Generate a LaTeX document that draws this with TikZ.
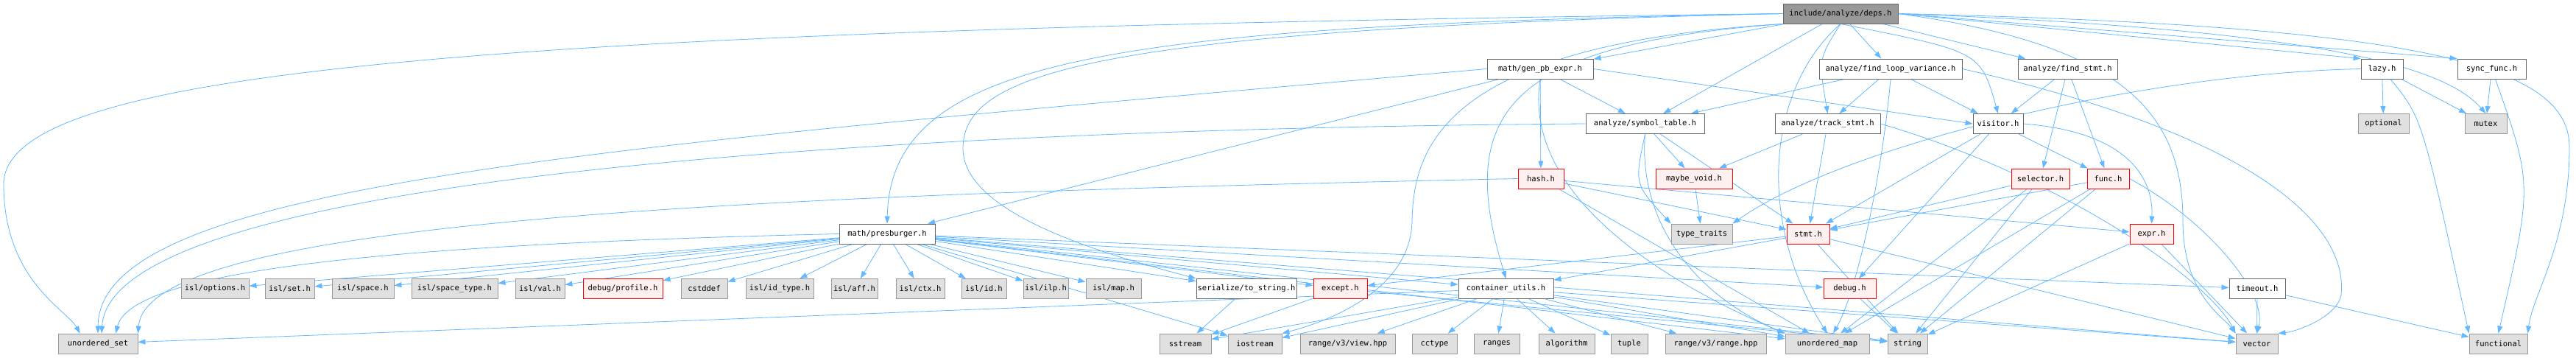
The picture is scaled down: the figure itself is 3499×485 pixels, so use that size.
\documentclass[tikz,border=0pt]{standalone}
\usepackage{fontspec}
\newfontfamily\doxfont{DejaVu Sans Mono}
\usetikzlibrary{arrows.meta}

\definecolor{edgeblue}{HTML}{63B8FF}
\definecolor{rootfill}{HTML}{999999}
\definecolor{rootline}{HTML}{666666}
\definecolor{sysfill}{HTML}{E0E0E0}
\definecolor{sysline}{HTML}{999999}
\definecolor{truncfill}{HTML}{FFF0F0}

\pgfdeclarelayer{back}
\pgfsetlayers{back,main}

\begin{document}
\begin{tikzpicture}[x=1pt, y=1pt, >={Triangle[length=10pt,width=7pt]},
    box/.style={line width=0.9pt, minimum height=27pt, inner sep=0pt,
        font=\doxfont\fontsize{10.5}{12}\selectfont},
    root/.style={box, draw=rootline, fill=rootfill},
    hdr/.style={box, draw=rootline, fill=white},
    sys/.style={box, draw=sysline, fill=sysfill},
    trunc/.style={box, draw=red, fill=truncfill},
    dep/.style={->, draw=edgeblue, line width=0.8pt}]
    \useasboundingbox (0,0) rectangle (3499,-485);

    % Root
    \node[root, minimum width=156pt] (deps) at (2500,-18.5) {include/analyze/deps.h};

    % Row 1
    \node[hdr, minimum width=144pt] (genpb) at (2092,-93.5) {math/gen\_pb\_expr.h};
    \node[hdr, minimum width=194pt] (findloop) at (2568,-93.5) {analyze/find\_loop\_variance.h};
    \node[hdr, minimum width=135pt] (findstmt) at (2808.5,-93.5) {analyze/find\_stmt.h};
    \node[hdr, minimum width=57pt] (lazy) at (3235.5,-93.5) {lazy.h};
    \node[hdr, minimum width=93pt] (syncfunc) at (3384.5,-93.5) {sync\_func.h};

    % Row 2
    \node[hdr, minimum width=161pt] (symtab) at (2234.5,-168) {analyze/symbol\_table.h};
    \node[hdr, minimum width=143pt] (trackstmt) at (2482.5,-168) {analyze/track\_stmt.h};
    \node[hdr, minimum width=68pt] (visitor) at (2714,-168) {visitor.h};
    \node[sys, minimum width=69pt] (optional) at (3237.5,-168) {optional};
    \node[sys, minimum width=57pt] (mutex) at (3376.5,-168) {mutex};

    % Row 3
    \node[trunc, minimum width=62pt] (hash) at (2093,-242.5) {hash.h};
    \node[trunc, minimum width=104pt] (maybevoid) at (2301,-242.5) {maybe\_void.h};
    \node[trunc, minimum width=79pt] (selector) at (2771.5,-242.5) {selector.h};
    \node[trunc, minimum width=57pt] (func) at (2863.5,-242.5) {func.h};

    % Row 4
    \node[hdr, minimum width=130pt] (presburger) at (1205,-317.5) {math/presburger.h};
    \node[sys, minimum width=83pt] (typetraits) at (2311.5,-317.5) {type\_traits};
    \node[trunc, minimum width=58pt] (stmt) at (2456,-317.5) {stmt.h};
    \node[trunc, minimum width=59pt] (expr) at (2922.5,-317.5) {expr.h};

    % Row 5
    \node[sys, minimum width=92pt] (islopt) at (292,-392) {isl/options.h};
    \node[sys, minimum width=67pt] (islset) at (393.5,-392) {isl/set.h};
    \node[sys, minimum width=84pt] (islspace) at (493,-392) {isl/space.h};
    \node[sys, minimum width=117pt] (islspacetype) at (617.5,-392) {isl/space\_type.h};
    \node[sys, minimum width=67pt] (islval) at (733.5,-392) {isl/val.h};
    \node[trunc, minimum width=108pt] (profile) at (846,-392) {debug/profile.h};
    \node[sys, minimum width=63pt] (cstddef) at (956.5,-392) {cstddef};
    \node[sys, minimum width=92pt] (islidtype) at (1059,-392) {isl/id\_type.h};
    \node[sys, minimum width=63pt] (islaff) at (1160.5,-392) {isl/aff.h};
    \node[sys, minimum width=66pt] (islctx) at (1250,-392) {isl/ctx.h};
    \node[sys, minimum width=61pt] (islid) at (1336.5,-392) {isl/id.h};
    \node[sys, minimum width=61pt] (islilp) at (1420.5,-392) {isl/ilp.h};
    \node[sys, minimum width=75pt] (islmap) at (1512.5,-392) {isl/map.h};
    \node[hdr, minimum width=136pt] (tostring) at (1693,-392) {serialize/to\_string.h};
    \node[trunc, minimum width=73pt] (except) at (1820.5,-392) {except.h};
    \node[hdr, minimum width=129pt] (cutils) at (2045.5,-392) {container\_utils.h};
    \node[trunc, minimum width=71pt] (debug) at (2512.5,-392) {debug.h};
    \node[hdr, minimum width=76pt] (timeout) at (3066,-392) {timeout.h};

    % Row 6
    \node[sys, minimum width=108pt] (uset) at (133,-466.5) {unordered\_set};
    \node[sys, minimum width=70pt] (sstream) at (1610,-466.5) {sstream};
    \node[sys, minimum width=73pt] (iostream) at (1704.5,-466.5) {iostream};
    \node[sys, minimum width=129pt] (view) at (1830.5,-466.5) {range/v3/view.hpp};
    \node[sys, minimum width=61pt] (cctype) at (1948.5,-466.5) {cctype};
    \node[sys, minimum width=62pt] (ranges) at (2033,-466.5) {ranges};
    \node[sys, minimum width=76pt] (algorithm) at (2128,-466.5) {algorithm};
    \node[sys, minimum width=50pt] (tuple) at (2213,-466.5) {tuple};
    \node[sys, minimum width=137pt] (rangehpp) at (2330.5,-466.5) {range/v3/range.hpp};
    \node[sys, minimum width=114pt] (umap) at (2482,-466.5) {unordered\_map};
    \node[sys, minimum width=54pt] (string) at (2591,-466.5) {string};
    \node[sys, minimum width=57pt] (vector) at (3065.5,-466.5) {vector};
    \node[sys, minimum width=79pt] (functional) at (3393.5,-466.5) {functional};

    \begin{pgfonlayer}{back}
    \fill[white] (0,0) rectangle (3499,-485);

    % Connections from deps.h
    \draw[dep] (deps) -- (genpb);
    \draw[dep] (deps) -- (findloop);
    \draw[dep] (deps) -- (findstmt);
    \draw[dep] (deps.east) -- (lazy.north west);
    \draw[dep] (deps.east) -- (syncfunc.north west);
    \draw[dep] (deps.east) .. controls (3150,-40) and (3320,-90) .. (mutex.north);
    \draw[dep] (deps.east) .. controls (3300,-35) and (3490,-90) .. (3490,-200) .. controls (3490,-330) and (3440,-400) .. (functional.north east);
    \draw[dep] (deps) -- (symtab);
    \draw[dep] (deps.south) .. controls (2470,-80) .. (trackstmt.north);
    \draw[dep] (deps.south) .. controls (2690,-70) .. (visitor.north);
    \draw[dep] (deps.west) .. controls (1500,-35) and (1210,-80) .. (presburger.north);
    \draw[dep] (deps.west) .. controls (1480,-40) and (1310,-100) .. (1308,-200) .. controls (1306,-290) and (1500,-345) .. (tostring.north west);
    \draw[dep] (deps.south west) .. controls (2050,-60) and (1975,-150) .. (cutils.north);
    \draw[dep] (deps.south west) .. controls (1960,-60) and (1920,-200) .. (1918,-300) .. controls (1916,-400) and (1790,-440) .. (iostream.north east);
    \draw[dep] (deps.west) .. controls (700,-40) and (5,-90) .. (5,-250) .. controls (5,-380) and (90,-420) .. (uset.150);
    \draw[dep] (deps.south) .. controls (2400,-120) and (2385,-300) .. (umap.north);
    \draw[dep] (deps.east) .. controls (2880,-60) and (2965,-150) .. (2965,-300) .. controls (2965,-400) and (3020,-430) .. (vector.north west);

    % Connections from gen_pb_expr.h
    \draw[dep] (genpb) -- (presburger);
    \draw[dep] (genpb.west) .. controls (800,-200) and (135,-250) .. (uset.north);
    \draw[dep] (genpb) -- (hash);
    \draw[dep] (genpb) -- (symtab);
    \draw[dep] (genpb.east) -- (visitor.west);
    \draw[dep] (genpb.south) .. controls (2065,-280) and (2300,-400) .. (umap.north west);

    % Connections from find_loop_variance.h
    \draw[dep] (findloop) -- (symtab);
    \draw[dep] (findloop) -- (trackstmt);
    \draw[dep] (findloop) -- (visitor);
    \draw[dep] (findloop.south) .. controls (2555,-250) and (2520,-400) .. (umap.60);
    \draw[dep] (findloop.east) .. controls (3050,-180) and (3190,-300) .. (3180,-400) .. controls (3175,-430) and (3120,-450) .. (vector.north east);

    % Connections from find_stmt.h
    \draw[dep] (findstmt) -- (visitor);
    \draw[dep] (findstmt) -- (selector);
    \draw[dep] (findstmt) -- (func);

    % Connections from lazy.h and sync_func.h
    \draw[dep] (lazy) -- (optional);
    \draw[dep] (lazy) -- (mutex);
    \draw[dep] (lazy) .. controls (3290,-160) .. (functional.north west);
    \draw[dep] (lazy.west) .. controls (2900,-100) and (2500,-200) .. (typetraits.north east);
    \draw[dep] (syncfunc) -- (mutex);
    \draw[dep] (syncfunc) .. controls (3440,-250) .. (functional.north);

    % Connections from symbol_table.h and track_stmt.h
    \draw[dep] (symtab) -- (maybevoid);
    \draw[dep] (symtab.south) .. controls (2220,-250) .. (typetraits.north west);
    \draw[dep] (symtab) -- (stmt);
    \draw[dep] (symtab.west) .. controls (1200,-175) and (150,-240) .. (uset.70);
    \draw[dep] (symtab.south) .. controls (2225,-300) and (2300,-400) .. (umap.north west);
    \draw[dep] (trackstmt) -- (maybevoid);
    \draw[dep] (trackstmt) -- (stmt);
    \draw[dep] (trackstmt.east) .. controls (2800,-240) and (3000,-380) .. (vector.north west);

    % Connections from visitor.h and hash.h
    \draw[dep] (visitor) -- (stmt);
    \draw[dep] (visitor) -- (func);
    \draw[dep] (visitor.east) .. controls (2900,-180) and (2925,-250) .. (expr.north);
    \draw[dep] (visitor) -- (debug);
    \draw[dep] (hash.west) .. controls (1000,-265) and (200,-300) .. (uset.north east);
    \draw[dep] (hash) -- (stmt);
    \draw[dep] (hash) -- (expr);
    \draw[dep] (hash) -- (umap);
    \draw[dep] (maybevoid) -- (typetraits);

    % Connections from selector.h and func.h
    \draw[dep] (selector) -- (stmt);
    \draw[dep] (selector) -- (umap);
    \draw[dep] (selector) -- (string);
    \draw[dep] (func) -- (stmt);
    \draw[dep] (func) -- (umap);
    \draw[dep] (func) -- (string);
    \draw[dep] (func.east) .. controls (3000,-300) and (3080,-400) .. (vector.north);

    % Connections from stmt.h, expr.h, debug.h, timeout.h
    \draw[dep] (stmt) -- (cutils);
    \draw[dep] (stmt) -- (except);
    \draw[dep] (stmt) -- (string);
    \draw[dep] (stmt) -- (vector);
    \draw[dep] (expr) -- (vector);
    \draw[dep] (expr) -- (string);
    \draw[dep] (debug) -- (string);
    \draw[dep] (timeout) -- (vector);
    \draw[dep] (timeout) -- (functional);

    % Connections from except.h and to_string.h
    \draw[dep] (except) -- (sstream);
    \draw[dep] (except) -- (string);
    \draw[dep] (tostring) -- (sstream);

    % Connections from container_utils.h
    \draw[dep] (cutils) -- (uset);
    \draw[dep] (cutils) -- (iostream);
    \draw[dep] (cutils) -- (sstream);
    \draw[dep] (cutils) -- (view);
    \draw[dep] (cutils) -- (cctype);
    \draw[dep] (cutils) -- (ranges);
    \draw[dep] (cutils) -- (algorithm);
    \draw[dep] (cutils) -- (tuple);
    \draw[dep] (cutils) -- (rangehpp);
    \draw[dep] (cutils) -- (umap);
    \draw[dep] (cutils) -- (string);
    \draw[dep] (cutils) -- (vector);

    % Connections from presburger.h
    \draw[dep] (presburger) -- (islopt);
    \draw[dep] (presburger) -- (islset);
    \draw[dep] (presburger) -- (islspace);
    \draw[dep] (presburger) -- (islspacetype);
    \draw[dep] (presburger) -- (islval);
    \draw[dep] (presburger) -- (profile);
    \draw[dep] (presburger) -- (cstddef);
    \draw[dep] (presburger) -- (islidtype);
    \draw[dep] (presburger) -- (islaff);
    \draw[dep] (presburger) -- (islctx);
    \draw[dep] (presburger) -- (islid);
    \draw[dep] (presburger) -- (islilp);
    \draw[dep] (presburger) -- (islmap);
    \draw[dep] (presburger) -- (tostring);
    \draw[dep] (presburger) -- (except);
    \draw[dep] (presburger) -- (iostream);
    \draw[dep] (presburger.west) .. controls (600,-330) and (180,-360) .. (uset.30);
    \draw[dep] (presburger) -- (cutils);
    \draw[dep] (presburger) -- (debug);
    \draw[dep] (presburger) -- (timeout);
    \draw[dep] (presburger) -- (umap);
    \draw[dep] (presburger) -- (string);
    \draw[dep] (presburger) -- (vector);
    \end{pgfonlayer}
\end{tikzpicture}
\end{document}
